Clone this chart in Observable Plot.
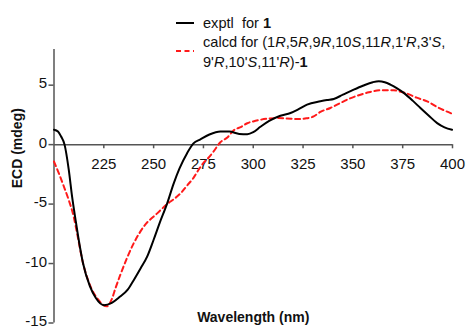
<!DOCTYPE html>
<html>
<head>
<meta charset="utf-8">
<script src="https://cdn.jsdelivr.net/npm/d3@7"></script>
<script src="https://cdn.jsdelivr.net/npm/@observablehq/plot@0.6"></script>
<style>
  html, body { margin: 0; padding: 0; background: #fff; }
  #wrap { position: relative; width: 466px; height: 329px; font-family: "Liberation Sans", Arial, Helvetica, sans-serif; color: #111; }
  .lg { position: absolute; font-size: 14.6px; line-height: 20px; white-space: nowrap; }
  .sw { position: absolute; }
</style>
</head>
<body>
<div id="wrap">
  <div id="chart"></div>
  <svg class="sw" style="left:176px; top:20px;" width="18" height="6"><line x1="0" x2="18" y1="3" y2="3" stroke="#000" stroke-width="2"/></svg>
  <svg class="sw" style="left:176px; top:48px;" width="18" height="6"><line x1="0" x2="18" y1="3" y2="3" stroke="#ff1a1a" stroke-width="2" stroke-dasharray="5,3.5"/></svg>
  <div class="lg" style="left:203px; top:13px;">exptl&nbsp; for <b>1</b></div>
  <div class="lg" style="left:203px; top:32px;">calcd for (1<i>R</i>,5<i>R</i>,9<i>R</i>,10<i>S</i>,11<i>R</i>,1'<i>R</i>,3'<i>S</i>,</div>
  <div class="lg" style="left:203px; top:52px;">9'<i>R</i>,10'<i>S</i>,11'<i>R</i>)-<b>1</b></div>
</div>
<script>
// Experimental ECD (black solid)
const exptWavelength = [200, 202, 203.5, 205.3, 207.4, 209.1, 210.8, 212.4, 214.6, 218, 221, 225, 229, 233, 237, 240, 243.5, 246.8, 250, 253, 256.8, 260, 263, 266.8, 270, 273.5, 278, 283.5, 288, 293, 297, 300, 303.6, 308, 313.6, 318.7, 323, 327, 333.7, 337, 340.4, 345, 350.4, 355, 360, 363, 366, 368.8, 372, 375.5, 380, 383.9, 388, 392.3, 396, 399.8];
const exptECD = [1.25, 1.1, 0.7, 0, -2.1, -4.4, -6.3, -8.0, -10, -11.9, -12.9, -13.5, -13.3, -12.8, -12.2, -11.4, -10.4, -9.4, -8.0, -6.6, -4.94, -3.3, -2.0, -0.72, 0.1, 0.45, 0.85, 1.1, 1.1, 0.9, 0.88, 1.05, 1.5, 2.0, 2.43, 2.66, 3.0, 3.36, 3.64, 3.75, 3.84, 4.2, 4.62, 4.95, 5.25, 5.33, 5.25, 5.05, 4.75, 4.35, 3.7, 3.08, 2.45, 1.81, 1.45, 1.25];

// Calculated ECD (red dashed)
const calcWavelength = [200, 202.4, 204.9, 207.4, 209.9, 211.6, 214.6, 218, 222, 226.5, 229, 231, 233.4, 240, 245, 251.8, 256.8, 260, 263.5, 267, 270, 273, 275.2, 277, 280, 283.5, 287, 290.2, 294, 297, 300, 303.6, 308, 312, 317, 322, 326, 330.3, 333.7, 338.7, 343.7, 348, 353.8, 358, 363.8, 370.5, 374, 377.2, 382, 387.3, 393, 399.8];
const calcECD = [-1.42, -2.4, -3.5, -4.66, -6.07, -7.47, -10, -11.8, -13.0, -13.6, -13.0, -12.0, -10.9, -8.3, -6.9, -5.78, -5.0, -4.6, -4.1, -3.4, -2.8, -2.0, -1.5, -1.2, -0.6, 0.2, 0.6, 1.2, 1.5, 1.8, 1.95, 2.09, 2.2, 2.23, 2.2, 2.15, 2.2, 2.37, 2.75, 3.08, 3.5, 3.85, 4.2, 4.4, 4.57, 4.57, 4.45, 4.29, 3.95, 3.64, 3.1, 2.6];

const xTicks = [225, 250, 275, 300, 325, 350, 375, 400];
const yTicks = [-15, -10, -5, 0, 5];
const xLabel = "Wavelength (nm)";
const yLabel = "ECD (mdeg)";

const expt = exptWavelength.map((w, i) => ({w, v: exptECD[i]}));
const calc = calcWavelength.map((w, i) => ({w, v: calcECD[i]}));

const axisColor = "#555";
const yFmt = d => (d < 0 ? "-" : "") + Math.abs(d);
const chart = Plot.plot({
  width: 466,
  height: 329,
  marginLeft: 53.5,
  marginRight: 14,
  marginTop: 49,
  marginBottom: 6.5,
  style: {fontFamily: "'Liberation Sans', Arial, Helvetica, sans-serif", background: "transparent", overflow: "visible", color: "#111"},
  x: {domain: [200, 400], axis: null},
  y: {domain: [-15, 8], axis: null},
  marks: [
    Plot.ruleX([200], {stroke: axisColor, strokeWidth: 1.5}),
    Plot.ruleY([0], {stroke: axisColor, strokeWidth: 1.5}),
    Plot.ruleX(xTicks, {x: d => d, y1: 0, y2: -0.35, stroke: axisColor, strokeWidth: 1.5}),
    Plot.text(xTicks, {x: d => d, y: 0, dy: 20, text: d => String(d), fontSize: 15, fill: "#111"}),
    Plot.axisY({ticks: yTicks, tickSize: 5, label: null, stroke: axisColor, strokeWidth: 1.5, tickFormat: () => ""}),
    Plot.axisY({ticks: yTicks, tickSize: 0, tickPadding: 7, dy: -1.5, fontSize: 15, label: null, stroke: "none", color: "#111", tickFormat: yFmt}),
    Plot.line(calc, {x: "w", y: "v", stroke: "#ff1a1a", strokeWidth: 2, strokeDasharray: "5,3.5", curve: "monotone-x"}),
    Plot.line(expt, {x: "w", y: "v", stroke: "#000", strokeWidth: 2, curve: "monotone-x"}),
    Plot.text([xLabel], {text: d => d, frameAnchor: "bottom", dy: -1, fontSize: 14, fontWeight: "bold", fill: "#111"}),
    Plot.text([yLabel], {text: d => d, frameAnchor: "left", dx: -36.5, dy: 2, rotate: -90, fontSize: 14, fontWeight: "bold", fill: "#111"})
  ]
});
document.getElementById("chart").appendChild(chart);
</script>
</body>
</html>
